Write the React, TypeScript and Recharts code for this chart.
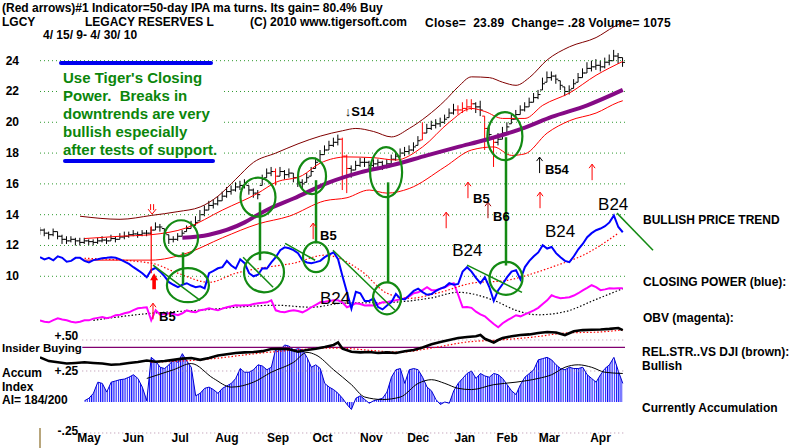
import React from "react";
import {
  ComposedChart,
  Bar,
  Line,
  Area,
  XAxis,
  YAxis,
  ReferenceLine,
  ReferenceDot,
} from "recharts";

const FONT = '"Liberation Sans", Arial, Helvetica, sans-serif';

// LGCY, one row every second trading day, 4/15/09 .. 4/30/10 (day index 0..262)
const STEP = 2;

const CLOSE = [
  13.0, 12.8, 12.7, 12.9, 12.6, 12.4, 12.3, 12.4, 12.3, 12.2,
  12.3, 12.25, 12.2, 12.3, 12.35, 12.3, 12.45, 12.4, 12.55, 12.6,
  12.7, 12.75, 12.7, 12.8, 12.8, 13.0, 13.2, 13.2, 12.8, 12.4,
  12.4, 12.6, 12.8, 13.1, 13.3, 13.5, 14.0, 14.3, 14.6, 14.7,
  14.9, 15.2, 15.5, 15.6, 15.8, 15.9, 16.0, 15.6, 15.4, 15.3,
  16.3, 16.7, 16.8, 16.5, 16.8, 16.6, 16.7, 16.4, 16.1, 16.0,
  16.4, 16.8, 17.4, 17.9, 18.2, 18.5, 18.7, 18.9, 17.8, 17.0,
  16.9, 17.2, 17.4, 17.4, 17.2, 17.3, 17.4, 17.2, 17.3, 17.6,
  17.8, 18.0, 18.1, 18.2, 18.4, 18.8, 19.3, 19.6, 19.8, 19.9,
  20.0, 20.2, 20.6, 20.8, 20.8, 20.9, 21.0, 21.2, 21.0, 20.8,
  19.6, 19.2, 18.7, 18.9, 19.3, 19.7, 20.2, 20.5, 20.8, 21.0,
  21.3, 21.6, 21.8, 22.5, 22.9, 23.0, 22.8, 22.4, 22.0, 22.1,
  22.5, 22.9, 23.2, 23.5, 23.6, 23.7, 23.6, 23.9, 24.0, 24.3,
  24.2, 23.89,
];
const HIGH = [
  13.2, 13.1, 12.9, 13.1, 12.9, 12.7, 12.6, 12.6, 12.5, 12.5,
  12.5, 12.4, 12.4, 12.5, 12.6, 12.5, 12.7, 12.6, 12.8, 12.9,
  12.9, 13.0, 12.9, 13.0, 13.0, 13.2, 13.5, 13.4, 13.1, 12.7,
  12.6, 12.8, 13.0, 13.3, 13.6, 13.9, 14.3, 14.6, 14.9, 15.0,
  15.2, 15.5, 15.8, 15.9, 16.1, 16.2, 16.3, 15.9, 15.7, 15.6,
  16.6, 17.0, 17.1, 17.0, 17.1, 16.9, 17.0, 16.7, 16.4, 16.3,
  16.7, 17.1, 17.7, 18.2, 18.5, 18.8, 19.0, 19.2, 19.0, 17.9,
  17.2, 17.5, 17.7, 17.7, 17.5, 17.6, 17.6, 17.5, 17.6, 17.9,
  18.1, 18.3, 18.4, 18.5, 18.7, 19.1, 20.0, 19.9, 20.1, 20.2,
  20.3, 20.5, 20.9, 21.2, 21.1, 21.3, 21.5, 21.5, 21.3, 21.4,
  20.4, 19.7, 19.0, 19.3, 19.7, 20.0, 20.5, 20.8, 21.1, 21.3,
  21.6, 21.9, 22.1, 22.9, 23.3, 23.3, 23.1, 22.7, 22.3, 22.4,
  22.8, 23.2, 23.5, 23.9, 24.0, 24.1, 24.0, 24.2, 24.4, 24.7,
  24.5, 24.2,
];
const LOW = [
  12.7, 12.6, 12.4, 12.6, 12.4, 12.1, 12.1, 12.2, 12.0, 12.0,
  12.1, 12.0, 12.0, 12.1, 12.2, 12.1, 12.3, 12.2, 12.4, 12.4,
  12.5, 12.6, 12.5, 12.6, 12.6, 12.7, 13.0, 12.9, 12.5, 12.1,
  12.2, 12.3, 12.6, 12.9, 13.1, 13.3, 13.6, 13.9, 14.3, 14.4,
  14.6, 14.9, 15.1, 15.3, 15.5, 15.6, 15.7, 15.3, 15.1, 15.0,
  15.9, 16.4, 16.5, 15.9, 16.5, 16.3, 16.4, 16.1, 15.8, 15.7,
  16.1, 16.5, 17.0, 17.5, 17.9, 18.2, 18.4, 18.5, 15.6, 15.4,
  16.4, 16.9, 17.1, 17.1, 16.9, 17.0, 17.1, 16.9, 17.0, 17.3,
  17.5, 17.7, 17.8, 17.9, 18.1, 18.5, 18.85, 19.3, 19.5, 19.6,
  19.7, 19.9, 20.3, 20.5, 20.5, 20.6, 20.7, 20.8, 20.6, 20.4,
  18.2, 18.8, 17.1, 18.5, 18.9, 19.3, 19.9, 20.2, 20.5, 20.7,
  21.0, 21.3, 21.5, 22.1, 22.6, 22.7, 22.5, 22.1, 21.7, 21.8,
  22.2, 22.6, 22.9, 23.2, 23.3, 23.4, 23.3, 23.5, 23.7, 24.0,
  23.8, 23.6,
];
// bars printed in red (signal days)
const RED_BARS = [53, 68, 69, 86, 94, 95, 96, 97, 100, 102];

// Tiger Closing Power (blue), plotted on the price grid
const CLOSING_POWER = [
  11.24, 11.1, 11.2, 11.04, 11.3, 11.2, 10.95, 11.0, 11.2, 11.2,
  11.0, 10.9, 11.05, 11.1, 11.17, 11.2, 11.24, 11.2, 11.1, 10.95,
  10.8, 10.59, 10.4, 10.2, 9.94, 10.4, 10.55, 10.3, 10.0, 9.62,
  9.45, 9.3, 9.45, 9.55, 9.4, 9.29, 9.35, 9.22, 10.2, 10.35,
  10.52, 10.59, 11.0, 10.7, 10.5, 11.1, 10.85, 10.2, 10.0, 10.1,
  10.52, 10.5, 10.9, 11.24, 11.7, 11.88, 11.82, 11.7, 11.5, 11.04,
  10.9, 10.85, 10.92, 11.0, 11.24, 11.4, 11.56, 11.11, 10.0, 8.97,
  7.9, 9.0, 8.9, 8.4, 8.4, 8.57, 8.0, 7.85, 8.1, 8.32,
  8.85, 8.55, 8.5, 8.77, 9.05, 9.2, 8.97, 8.8, 8.85, 9.05,
  9.2, 9.3, 9.55, 9.45, 9.5, 10.3, 10.59, 10.3, 9.9, 9.55,
  9.94, 9.3, 8.4, 9.1, 9.5, 9.94, 10.3, 10.4, 9.8, 10.6,
  11.0, 11.3, 11.55, 12.02, 11.8, 11.9, 11.5, 11.24, 11.0, 10.92,
  11.3, 11.75, 12.1, 12.54, 12.8, 12.99, 13.1, 13.25, 13.5, 13.95,
  13.2, 12.86,
];

// On-balance volume (magenta), plotted on the price grid
const OBV = [
  7.14, 7.05, 7.01, 7.15, 7.27, 7.2, 7.14, 7.05, 7.0, 7.05,
  7.14, 7.14, 7.25, 7.3, 7.35, 7.27, 7.35, 7.47, 7.5, 7.6,
  7.66, 7.8, 7.92, 7.95, 7.99, 7.14, 7.8, 7.5, 7.55, 7.6,
  7.55, 7.47, 7.6, 7.79, 7.7, 7.66, 7.8, 7.85, 7.92, 7.85,
  7.79, 7.9, 7.99, 8.05, 8.12, 8.1, 8.12, 8.12, 8.2, 8.25,
  8.28, 8.31, 8.44, 7.79, 7.7, 7.66, 7.75, 7.79, 7.75, 7.66,
  7.8, 7.99, 8.15, 8.31, 8.35, 8.4, 8.44, 8.44, 8.3, 7.99,
  8.1, 8.25, 8.2, 8.1, 8.12, 8.1, 8.2, 8.31, 8.31, 8.4,
  8.44, 8.5, 8.57, 8.7, 8.9, 8.96, 9.1, 9.29, 9.1, 9.09,
  9.2, 9.29, 9.45, 9.55, 8.8, 7.99, 8.0, 7.95, 7.7, 7.53,
  7.4, 7.14, 6.9, 6.69, 6.95, 7.14, 7.3, 7.47, 7.4, 7.53,
  7.66, 7.79, 7.95, 8.2, 8.44, 8.77, 8.65, 8.57, 8.6, 8.64,
  8.75, 8.9, 9.09, 9.25, 9.42, 9.3, 9.1, 9.15, 9.22, 9.2,
  9.22, 9.22,
];

// Accumulation index, starts at day 20
const ACCUM_INDEX = [
  null, null, null, null, null, null, null, null, null, null,
  0.01, 0.03, 0.07, 0.16, 0.15, 0.08, 0.16, 0.17, 0.18, 0.185,
  0.2, 0.22, 0.19, 0.12, 0.01, 0.36, 0.33, 0.28, 0.27, 0.3,
  0.34, 0.32, 0.39, 0.33, 0.28, 0.05, 0.07, 0.11, 0.12, 0.1,
  0.07, 0.11, 0.13, 0.15, 0.19, 0.27, 0.24, 0.24, 0.26, 0.3,
  0.29, 0.26, 0.28, 0.43, 0.42, 0.46, 0.45, 0.42, 0.43, 0.42,
  0.36, 0.28, 0.3, 0.27, 0.15, 0.12, 0.1, 0.07, 0.03, -0.02,
  -0.06, 0.03, 0.05, 0.02, -0.01, 0.01, 0.02, 0.03, 0.08, 0.2,
  0.26, 0.27, 0.15, 0.26, 0.27, 0.26, 0.2, 0.12, 0.09, 0.02,
  -0.02, 0.0, -0.01, 0.09, 0.15, 0.19, 0.23, 0.25, 0.19, 0.23,
  0.21, 0.2, 0.23, 0.22, 0.19, 0.14, 0.09, 0.06, 0.14, 0.2,
  0.23, 0.26, 0.34, 0.35, 0.36, 0.34, 0.3, 0.27, 0.26, 0.28,
  0.27, 0.27, 0.28, 0.22, 0.19, 0.16, 0.22, 0.27, 0.3, 0.36,
  0.25, 0.15,
];

// smoother studies, [day, value]
const BAND_OUTER_UPPER = [
  [18, 13.9], [36, 13.7], [50, 13.95], [62, 14.2], [72, 14.5], [80, 15.2], [88, 16.3],
  [96, 17.4], [106, 18.0], [116, 18.6], [126, 19.1], [136, 19.45], [142, 19.6], [150, 19.4],
  [158, 19.05], [166, 19.6], [174, 20.4], [182, 21.4], [188, 22.3], [194, 22.95], [202, 22.9],
  [208, 22.6], [214, 22.4], [220, 22.9], [228, 24.05], [238, 24.9], [250, 25.5], [258, 26.2],
  [262, 26.5],
];
const BAND_INNER_UPPER = [
  [20, 12.45], [36, 12.6], [50, 12.7], [66, 13.15], [82, 14.3], [98, 15.4], [106, 16.1],
  [118, 16.55], [126, 17.35], [138, 17.75], [150, 17.7], [160, 17.55], [172, 18.4], [184, 20.0],
  [194, 20.9], [200, 20.7], [208, 20.25], [218, 20.25], [226, 21.1], [238, 21.9], [250, 23.05],
  [262, 23.95],
];
const BAND_LOWER = [
  [20, 11.05], [50, 11.05], [66, 11.5], [82, 12.5], [98, 13.4], [112, 13.9], [128, 14.9],
  [138, 15.1], [148, 15.6], [156, 15.4], [166, 15.7], [182, 17.1], [194, 18.2], [204, 18.4],
  [212, 17.85], [218, 17.95], [228, 19.3], [238, 20.1], [250, 20.6], [260, 21.3], [262, 21.4],
];
const MA50 = [
  [64, 12.5], [76, 12.7], [92, 13.5], [98, 14.0], [104, 14.45], [114, 15.05], [130, 16.1],
  [144, 16.75], [158, 17.2], [174, 17.85], [188, 18.4], [200, 18.85], [218, 19.65],
  [230, 20.35], [246, 21.1], [262, 22.1],
];
const CP_MA = [
  [20, 11.17], [50, 10.85], [62, 10.2], [76, 9.61], [88, 10.2], [102, 10.59], [114, 10.85],
  [128, 11.37], [144, 10.39], [156, 8.9], [166, 8.57], [180, 8.96], [194, 9.55], [210, 9.74],
  [222, 10.2], [230, 10.59], [246, 11.5], [260, 12.8],
];
const OBV_MA = [
  [24, 7.14], [50, 7.6], [72, 7.8], [94, 8.05], [106, 8.12], [122, 7.99], [136, 8.25],
  [158, 8.31], [176, 8.6], [188, 8.96], [204, 8.44], [214, 7.79], [224, 7.5], [236, 7.7],
  [250, 8.5], [262, 9.2],
];
const REL_STRENGTH = [
  [0, 0.36], [4, 0.33], [8, 0.32], [12, 0.31], [16, 0.315], [20, 0.32], [24, 0.315],
  [28, 0.31], [32, 0.3], [36, 0.305], [40, 0.315], [44, 0.323], [48, 0.335], [52, 0.325],
  [56, 0.33], [60, 0.34], [64, 0.35], [68, 0.355], [72, 0.34], [76, 0.355], [80, 0.375],
  [84, 0.385], [88, 0.395], [92, 0.4], [96, 0.403], [100, 0.41], [104, 0.427], [108, 0.43],
  [112, 0.425], [116, 0.405], [120, 0.42], [124, 0.43], [128, 0.444], [132, 0.46],
  [134, 0.48], [136, 0.43], [140, 0.405], [144, 0.4], [148, 0.403], [152, 0.395],
  [156, 0.4], [160, 0.395], [164, 0.41], [168, 0.42], [172, 0.44], [176, 0.465],
  [180, 0.484], [184, 0.5], [188, 0.516], [192, 0.524], [196, 0.53], [198, 0.54],
  [200, 0.51], [204, 0.48], [206, 0.5], [208, 0.516], [212, 0.53], [216, 0.54],
  [220, 0.545], [224, 0.556], [228, 0.565], [232, 0.56], [236, 0.54], [240, 0.57],
  [244, 0.58], [248, 0.583], [252, 0.585], [256, 0.59], [260, 0.597], [262, 0.58],
];
const REL_STRENGTH_MA = [
  [50, 0.32], [72, 0.34], [104, 0.403], [132, 0.435], [162, 0.403], [176, 0.435],
  [192, 0.484], [206, 0.5], [222, 0.524], [236, 0.556], [252, 0.565], [262, 0.581],
];
const ACCUM_MA = [
  [48, 0.19], [60, 0.26], [68, 0.31], [78, 0.19], [86, 0.12], [96, 0.16], [104, 0.24],
  [114, 0.32], [120, 0.4], [124, 0.38], [132, 0.26], [140, 0.14], [146, 0.04], [154, 0.02],
  [162, 0.04], [170, 0.15], [176, 0.18], [182, 0.15], [188, 0.11], [194, 0.1], [204, 0.14],
  [214, 0.16], [224, 0.19], [230, 0.22], [236, 0.28], [242, 0.3], [248, 0.28], [254, 0.24],
  [262, 0.23],
];

// axis labels
const PRICE_TICKS = [10, 12, 14, 16, 18, 20, 22, 24];
const MONTH_TICKS = [22, 42, 63, 84, 107, 127, 149, 170, 191, 210, 229, 252];
const MONTH_LABELS = ["May", "Jun", "Jul", "Aug", "Sep", "Oct", "Nov", "Dec", "Jan", "Feb", "Mar", "Apr"];
const MONTH_ROW = -0.29; // month names sit on the lower panel's bottom row
const INDEX_LINES = [
  { v: 0.5, label: "+.50", at: 0.535 },
  { v: 0.25, label: "+.25", at: 0.25 },
  { v: -0.25, label: "-.25", at: -0.235 },
];
const INSIDER_LEVEL = 0.44;

// chart annotations in data coordinates
const ELLIPSES = [
  { d: 63.4, v: 12.47, rx: 17, ry: 18 },
  { d: 66.5, v: 9.42, rx: 21, ry: 17 },
  { d: 98, v: 15.14, rx: 17.5, ry: 19.5 },
  { d: 100.7, v: 10.26, rx: 20, ry: 20 },
  { d: 122.3, v: 16.5, rx: 14, ry: 18 },
  { d: 124.1, v: 11.24, rx: 13, ry: 15 },
  { d: 155.6, v: 16.76, rx: 16, ry: 25 },
  { d: 156, v: 8.57, rx: 14, ry: 16 },
  { d: 209, v: 19.1, rx: 17.5, ry: 24 },
  { d: 209.5, v: 9.87, rx: 16.5, ry: 16.5 },
];
const GREEN_SEGMENTS = [
  [64.3, 11.55, 64.3, 9.46, 2.5],
  [98.9, 14.8, 98.9, 11.04, 2.5],
  [124.1, 16.24, 124.1, 12.14, 2.5],
  [156.5, 16.1, 156.5, 9.6, 2.5],
  [209.5, 19.03, 209.5, 10.7, 2.5],
  [50.8, 10.72, 72, 8.44, 1.5],
  [91.3, 11.24, 104.8, 9.29, 1.5],
  [110.2, 12.14, 123.7, 11.04, 1.5],
  [131.7, 11.69, 159.6, 7.79, 1.5],
  [192, 10.72, 216.7, 8.96, 1.5],
  [259.4, 14.1, 275.6, 11.69, 1.5],
];
const B24_TAGS = [
  [125.9, 8.57],
  [185.3, 11.69],
  [227, 12.93],
  [250.9, 14.68],
];
const SIGNAL_TAGS = [
  { d: 53.5, v: 7.4, text: "B5" },
  { d: 137, v: 20.73, text: "\u2193S14" },
  { d: 125.9, v: 12.67, text: "B5" },
  { d: 194.7, v: 15.07, text: "B5" },
  { d: 203.7, v: 13.9, text: "B6" },
  { d: 227, v: 16.96, text: "B54" },
];
const UP_ARROWS = [
  { d: 50.8, v: 7.73, color: "#ff0000" },
  { d: 122.8, v: 12.93, color: "#ff0000" },
  { d: 182.6, v: 13.64, color: "#ff0000" },
  { d: 192.4, v: 15.59, color: "#ff0000" },
  { d: 201.4, v: 14.29, color: "#a00000" },
  { d: 224.8, v: 14.94, color: "#ff0000" },
  { d: 248.2, v: 16.76, color: "#ff0000" },
  { d: 224.6, v: 17.22, color: "#000000" },
];
const BUY_LINE = [50, 13.25, 50, 10.2];

// build chart rows
const rows: any[] = CLOSE.map((cl, i) => ({
  day: i * STEP,
  hi: HIGH[i],
  lo: LOW[i],
  cl,
  op: i > 0 ? Math.min(HIGH[i], Math.max(LOW[i], CLOSE[i - 1])) : cl,
  red: RED_BARS.includes(i),
  cp: CLOSING_POWER[i],
  obv: OBV[i],
  ai: ACCUM_INDEX[i],
}));
const addSparse = (key: string, pairs: number[][]) => {
  pairs.forEach(([d, v]) => {
    rows[d / STEP][key] = v;
  });
};
addSparse("bandOuter", BAND_OUTER_UPPER);
addSparse("bandInner", BAND_INNER_UPPER);
addSparse("bandLower", BAND_LOWER);
addSparse("ma50", MA50);
addSparse("cpMa", CP_MA);
addSparse("obvMa", OBV_MA);
addSparse("rs", REL_STRENGTH);
addSparse("rsMa", REL_STRENGTH_MA);
addSparse("aiMa", ACCUM_MA);

const GREEN = "#138a13";
const GRID_GREEN = "#2f9a2f";

const PriceBar = (props: any) => {
  const { x, y, width, height, payload } = props;
  if (!payload || x == null || y == null) return null;
  const cx = x + width / 2;
  const top = Math.min(y, y + height);
  const h = Math.abs(height);
  const span = payload.hi - payload.lo || 1;
  const cy = top + ((payload.hi - payload.cl) / span) * h;
  const oy = top + ((payload.hi - payload.op) / span) * h;
  const c = payload.red ? "#ff0000" : "#000000";
  return (
    <g stroke={c} strokeWidth={1}>
      <line x1={cx} x2={cx} y1={top} y2={top + h} />
      <line x1={cx} x2={cx + 2.5} y1={cy} y2={cy} />
      <line x1={cx - 2.5} x2={cx} y1={oy} y2={oy} />
    </g>
  );
};

const PriceTick = (p: any) => (
  <text
    x={19}
    y={p.y}
    textAnchor="end"
    dominantBaseline="central"
    fontFamily={FONT}
    fontWeight={700}
    fontSize={12}
    fill="#000"
  >
    {p.payload.value}
  </text>
);

const labelShape = (text: string, opts: any = {}) => (p: any) => (
  <text
    x={p.cx + (opts.dx || 0)}
    y={p.cy}
    textAnchor={opts.anchor || "start"}
    dominantBaseline="central"
    fontFamily={FONT}
    fontWeight={opts.weight == null ? 700 : opts.weight}
    fontSize={opts.size || 12}
    fill={opts.color || "#000"}
  >
    {text}
  </text>
);

const Txt = ({ x, y, size = 12, weight = 700, color = "#000", spacing = 0, children }: any) => (
  <div
    style={{
      position: "absolute",
      left: x,
      top: y,
      fontSize: size,
      fontWeight: weight,
      color,
      fontFamily: FONT,
      whiteSpace: "pre",
      lineHeight: 1,
      letterSpacing: spacing,
    }}
  >
    {children}
  </div>
);

export default function App() {
  return (
    <div
      style={{
        position: "absolute",
        left: 0,
        top: 0,
        width: 800,
        height: 448,
        background: "#fff",
        overflow: "hidden",
      }}
    >
      <ComposedChart
        width={800}
        height={448}
        data={rows}
        margin={{ top: 0, right: 175, bottom: 0, left: 0 }}
      >
        <defs>
          <pattern id="aiStripes" x="40" y="0" width="2.224" height="6" patternUnits="userSpaceOnUse">
            <rect x="0" y="0" width="1.1" height="6" fill="#0a0aff" />
          </pattern>
        </defs>
        <XAxis dataKey="day" type="number" domain={[0, 263]} hide allowDataOverflow />
        <YAxis
          yAxisId="price"
          domain={[-1.15, 27.94]}
          ticks={PRICE_TICKS}
          width={40}
          axisLine={false}
          tickLine={false}
          tick={<PriceTick />}
          interval={0}
          allowDataOverflow
        />
        <YAxis yAxisId="ind" orientation="right" domain={[-0.371, 3.242]} hide allowDataOverflow />

        {PRICE_TICKS.map((v) => (
          <ReferenceLine
            key={"g" + v}
            yAxisId="price"
            y={v}
            stroke={GRID_GREEN}
            strokeDasharray="1 3"
          />
        ))}
        {INDEX_LINES.map((g) => (
          <ReferenceLine
            key={"i" + g.v}
            yAxisId="ind"
            segment={[
              { x: 19, y: g.v },
              { x: 263, y: g.v },
            ]}
            stroke="#b58aa8"
            strokeDasharray="1 3"
          />
        ))}
        {INDEX_LINES.map((g) => (
          <ReferenceDot
            key={"il" + g.v}
            yAxisId="ind"
            x={19}
            y={g.at}
            r={1}
            ifOverflow="visible"
            shape={labelShape(g.label, { anchor: "end", dx: -4 })}
          />
        ))}
        {MONTH_TICKS.map((d, i) => (
          <ReferenceDot
            key={"m" + d}
            yAxisId="ind"
            x={d}
            y={MONTH_ROW}
            r={1}
            ifOverflow="visible"
            shape={labelShape(MONTH_LABELS[i], { anchor: "middle" })}
          />
        ))}
        <ReferenceLine
          yAxisId="ind"
          segment={[
            { x: 19, y: INSIDER_LEVEL },
            { x: 263, y: INSIDER_LEVEL },
          ]}
          stroke="#800070"
          strokeWidth={1.2}
        />
        <ReferenceLine
          yAxisId="ind"
          segment={[
            { x: 0, y: -0.21 },
            { x: 0, y: -0.37 },
          ]}
          stroke="#a08850"
          strokeWidth={1.5}
          ifOverflow="visible"
        />

        {/* accumulation index panel */}
        <Area
          yAxisId="ind"
          dataKey="ai"
          type="linear"
          baseValue={0}
          fill="url(#aiStripes)"
          fillOpacity={1}
          stroke="#0000d0"
          strokeWidth={1}
          isAnimationActive={false}
        />
        <Line yAxisId="ind" dataKey="aiMa" type="monotone" stroke="#000" strokeWidth={1} dot={false} connectNulls isAnimationActive={false} />
        <Line yAxisId="ind" dataKey="rsMa" type="monotone" stroke="#ff0000" strokeWidth={1.2} strokeDasharray="1.5 2" dot={false} connectNulls isAnimationActive={false} />
        <Line yAxisId="ind" dataKey="rs" type="linear" stroke="#000" strokeWidth={2.6} dot={false} connectNulls isAnimationActive={false} />

        {/* price bands and moving average */}
        <Line yAxisId="price" dataKey="bandOuter" type="monotone" stroke="#800000" strokeWidth={1} dot={false} connectNulls isAnimationActive={false} />
        <Line yAxisId="price" dataKey="bandInner" type="monotone" stroke="#ff0000" strokeWidth={1} dot={false} connectNulls isAnimationActive={false} />
        <Line yAxisId="price" dataKey="bandLower" type="monotone" stroke="#ff0000" strokeWidth={1} dot={false} connectNulls isAnimationActive={false} />
        <Line yAxisId="price" dataKey="ma50" type="monotone" stroke="#850a85" strokeWidth={4} dot={false} connectNulls isAnimationActive={false} />

        {/* OBV and closing power */}
        <Line yAxisId="price" dataKey="obvMa" type="monotone" stroke="#000" strokeWidth={1.2} strokeDasharray="1.5 2" dot={false} connectNulls isAnimationActive={false} />
        <Line yAxisId="price" dataKey="obv" type="linear" stroke="#ff00ff" strokeWidth={2} dot={false} isAnimationActive={false} />
        <Line yAxisId="price" dataKey="cpMa" type="monotone" stroke="#ff0000" strokeWidth={1.2} strokeDasharray="1.5 2" dot={false} connectNulls isAnimationActive={false} />
        <Line yAxisId="price" dataKey="cp" type="linear" stroke="#0000ff" strokeWidth={2} dot={false} isAnimationActive={false} />

        <Bar
          yAxisId="price"
          dataKey={(r: any) => [r.lo, r.hi]}
          barSize={5}
          shape={<PriceBar />}
          isAnimationActive={false}
        />

        {/* buy signal line */}
        <ReferenceLine
          yAxisId="price"
          segment={[
            { x: BUY_LINE[0], y: BUY_LINE[1] },
            { x: BUY_LINE[2], y: BUY_LINE[3] },
          ]}
          stroke="#ff0000"
          strokeWidth={1.2}
        />

        {/* green study marks */}
        {GREEN_SEGMENTS.map((s, i) => (
          <ReferenceLine
            key={"s" + i}
            yAxisId="price"
            segment={[
              { x: s[0], y: s[1] },
              { x: s[2], y: s[3] },
            ]}
            stroke={GREEN}
            strokeWidth={s[4]}
            ifOverflow="visible"
          />
        ))}
        {ELLIPSES.map((e, i) => (
          <ReferenceDot
            key={"e" + i}
            yAxisId="price"
            x={e.d}
            y={e.v}
            r={1}
            ifOverflow="visible"
            shape={(p: any) => (
              <ellipse cx={p.cx} cy={p.cy} rx={e.rx} ry={e.ry} fill="none" stroke={GREEN} strokeWidth={2.2} />
            )}
          />
        ))}

        {/* signal arrows */}
        {UP_ARROWS.map((a, i) => (
          <ReferenceDot
            key={"a" + i}
            yAxisId="price"
            x={a.d}
            y={a.v}
            r={1}
            ifOverflow="visible"
            shape={(p: any) => (
              <g stroke={a.color} strokeWidth={1} fill="none">
                <line x1={p.cx} x2={p.cx} y1={p.cy - 8} y2={p.cy + 8} />
                <polyline points={`${p.cx - 3},${p.cy - 4} ${p.cx},${p.cy - 8} ${p.cx + 3},${p.cy - 4}`} />
              </g>
            )}
          />
        ))}
        <ReferenceDot
          yAxisId="price"
          x={50.4}
          y={14.36}
          r={1}
          ifOverflow="visible"
          shape={(p: any) => (
            <g stroke="#ff0000" strokeWidth={1} fill="none">
              <line x1={p.cx - 1.5} x2={p.cx - 1.5} y1={p.cy - 5} y2={p.cy + 1} />
              <line x1={p.cx + 1.5} x2={p.cx + 1.5} y1={p.cy - 5} y2={p.cy + 1} />
              <polyline points={`${p.cx - 4},${p.cy} ${p.cx},${p.cy + 5} ${p.cx + 4},${p.cy}`} />
            </g>
          )}
        />
        <ReferenceDot
          yAxisId="price"
          x={51.3}
          y={9.68}
          r={1}
          ifOverflow="visible"
          shape={(p: any) => (
            <path
              d={`M${p.cx - 1.8},${p.cy + 8} L${p.cx - 1.8},${p.cy - 1} L${p.cx - 4},${p.cy - 1} L${p.cx},${p.cy - 8} L${p.cx + 4},${p.cy - 1} L${p.cx + 1.8},${p.cy - 1} L${p.cx + 1.8},${p.cy + 8} Z`}
              fill="#ff0000"
            />
          )}
        />

        {SIGNAL_TAGS.map((t, i) => (
          <ReferenceDot
            key={"t" + i}
            yAxisId="price"
            x={t.d}
            y={t.v}
            r={1}
            ifOverflow="visible"
            shape={labelShape(t.text, { size: 13 })}
          />
        ))}
        {B24_TAGS.map((t, i) => (
          <ReferenceDot
            key={"b" + i}
            yAxisId="price"
            x={t[0]}
            y={t[1]}
            r={1}
            ifOverflow="visible"
            shape={labelShape("B24", { size: 17, weight: 400 })}
          />
        ))}
      </ComposedChart>

      {/* header */}
      <Txt x={2} y={2}>(Red arrows)#1 Indicator=50-day IPA ma turns. Its gain= 80.4% Buy</Txt>
      <Txt x={2} y={16}>LGCY</Txt>
      <Txt x={85} y={16}>LEGACY RESERVES L</Txt>
      <Txt x={250} y={16}>(C) 2010 www.tigersoft.com</Txt>
      <Txt x={425} y={17} spacing={0.23}>{"Close=  23.89  Change= .28 Volume= 1075"}</Txt>
      <Txt x={43} y={29}>{"4/ 15/ 9- 4/ 30/ 10"}</Txt>

      {/* callout */}
      <div style={{ position: "absolute", left: 59, top: 64, width: 162, height: 95, background: "#fff" }} />
      <div style={{ position: "absolute", left: 59, top: 61, width: 154, height: 4, background: "#0000ee", borderRadius: 2 }} />
      <div style={{ position: "absolute", left: 63, top: 159, width: 152, height: 4, background: "#0000ee", borderRadius: 2 }} />
      {["Use Tiger's Closing", "Power.  Breaks in", "downtrends are very", "bullish especially", "after tests of support."].map(
        (line, i) => (
          <Txt key={line} x={63} y={70 + i * 17.9} size={15} color="#0b860b">
            {line}
          </Txt>
        )
      )}

      {/* lower panel captions */}
      <Txt x={2} y={343} size={11.5}>Insider Buying</Txt>
      <Txt x={2} y={367}>Accum</Txt>
      <Txt x={2} y={381}>Index</Txt>
      <Txt x={2} y={394}>AI= 184/200</Txt>

      {/* legend */}
      <Txt x={643} y={214}>BULLISH PRICE TREND</Txt>
      <Txt x={643} y={276}>CLOSING POWER (blue):</Txt>
      <Txt x={643} y={312}>OBV (magenta):</Txt>
      <Txt x={642} y={346}>REL.STR..VS DJI (brown):</Txt>
      <Txt x={642} y={360}>Bullish</Txt>
      <Txt x={642} y={402}>Currently Accumulation</Txt>
    </div>
  );
}
